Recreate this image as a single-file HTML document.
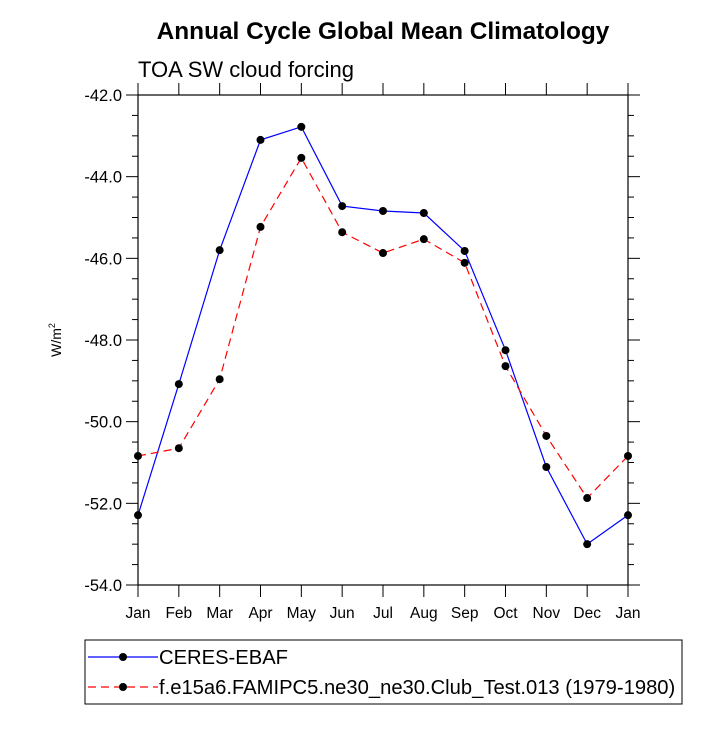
<!DOCTYPE html>
<html><head><meta charset="utf-8"><style>
body{margin:0;background:#fff}
text{font-family:"Liberation Sans",sans-serif}
</style></head><body>
<svg id="c" width="725" height="725" viewBox="0 0 725 725" xmlns="http://www.w3.org/2000/svg">
<text x="383" y="39" font-size="24.4" font-weight="bold" text-anchor="middle">Annual Cycle Global Mean Climatology</text>
<text x="138" y="77" font-size="22">TOA SW cloud forcing</text>
<text transform="translate(61,340) rotate(-90)" font-size="14" text-anchor="middle">W/m<tspan font-size="9" dy="-6">2</tspan></text>
<g id="axes"></g>
<g id="series"></g>
<g>
<rect x="85" y="640" width="597" height="64" fill="none" stroke="#000" stroke-width="1"/>
<g>
<line x1="88" y1="657" x2="158" y2="657" stroke="#0000ff" stroke-width="1.2"/>
<circle cx="123" cy="657" r="4" fill="#000"/>
<text x="159" y="664" font-size="20.2">CERES-EBAF</text></g>
<g>
<line x1="88" y1="687" x2="158" y2="687" stroke="#ff0000" stroke-width="1.2" stroke-dasharray="8,5"/>
<circle cx="123" cy="687" r="4" fill="#000"/>
<text x="159" y="694" font-size="20.2">f.e15a6.FAMIPC5.ne30_ne30.Club_Test.013 (1979-1980)</text></g>
</g>
</svg>
<script>
const months=["Jan","Feb","Mar","Apr","May","Jun","Jul","Aug","Sep","Oct","Nov","Dec","Jan"];
const ceres=[-52.29,-49.08,-45.80,-43.10,-42.78,-44.72,-44.84,-44.89,-45.82,-48.25,-51.11,-53.00,-52.29];
const model=[-50.84,-50.65,-48.96,-45.23,-43.54,-45.36,-45.87,-45.53,-46.11,-48.64,-50.35,-51.87,-50.84];
const yTicks=[-42,-44,-46,-48,-50,-52,-54];
const yTickLabels=["-42.0","-44.0","-46.0","-48.0","-50.0","-52.0","-54.0"];
const X0=138,X1=628,Y0=95,Y1=585,ymax=-42,ymin=-54;
const NS="http://www.w3.org/2000/svg";
const xs=i=>X0+i*(X1-X0)/(months.length-1);
const ys=v=>Y0+(ymax-v)/(ymax-ymin)*(Y1-Y0);
function mk(tag,attrs,parent){const e=document.createElementNS(NS,tag);for(const k in attrs)e.setAttribute(k,attrs[k]);parent.appendChild(e);return e;}
const ax=document.getElementById('axes');
const frame=mk('rect',{x:X0,y:Y0,width:X1-X0,height:Y1-Y0,fill:'none',stroke:'#000','stroke-width':1.2},ax);


months.forEach((m,i)=>{const x=xs(i);
mk('line',{x1:x,y1:Y1,x2:x,y2:Y1+12,stroke:'#000'},ax);
mk('line',{x1:x,y1:Y0,x2:x,y2:Y0-12,stroke:'#000'},ax);
const t=mk('text',{x:x,y:Y1+33,'font-size':15.5,'text-anchor':'middle'},ax);t.textContent=m;

});
yTicks.forEach((v,i)=>{const y=ys(v);
mk('line',{x1:X0,y1:y,x2:X0-12,y2:y,stroke:'#000'},ax);
mk('line',{x1:X1,y1:y,x2:X1+12,y2:y,stroke:'#000'},ax);
const t=mk('text',{x:X0-16,y:y+6,'font-size':16.5,'text-anchor':'end'},ax);t.textContent=yTickLabels[i];


if(i<yTicks.length-1){for(let k=1;k<4;k++){const yy=ys(v-k*0.5);
mk('line',{x1:X0,y1:yy,x2:X0-6,y2:yy,stroke:'#000'},ax);
mk('line',{x1:X1,y1:yy,x2:X1+6,y2:yy,stroke:'#000'},ax);}}});
const sg=document.getElementById('series');
function draw(data,color,dash,name){
const pts=data.map((v,i)=>xs(i)+','+ys(v)).join(' ');
const pl=mk('polyline',{points:pts,fill:'none',stroke:color,'stroke-width':1.2,'stroke-dasharray':dash},sg);


data.forEach((v,i)=>{const c=mk('circle',{cx:xs(i),cy:ys(v),r:4,fill:'#000'},sg);

});}
draw(ceres,'#0000ff','none','ceres');
draw(model,'#ff0000','8,5','model');
</script>
</body></html>
